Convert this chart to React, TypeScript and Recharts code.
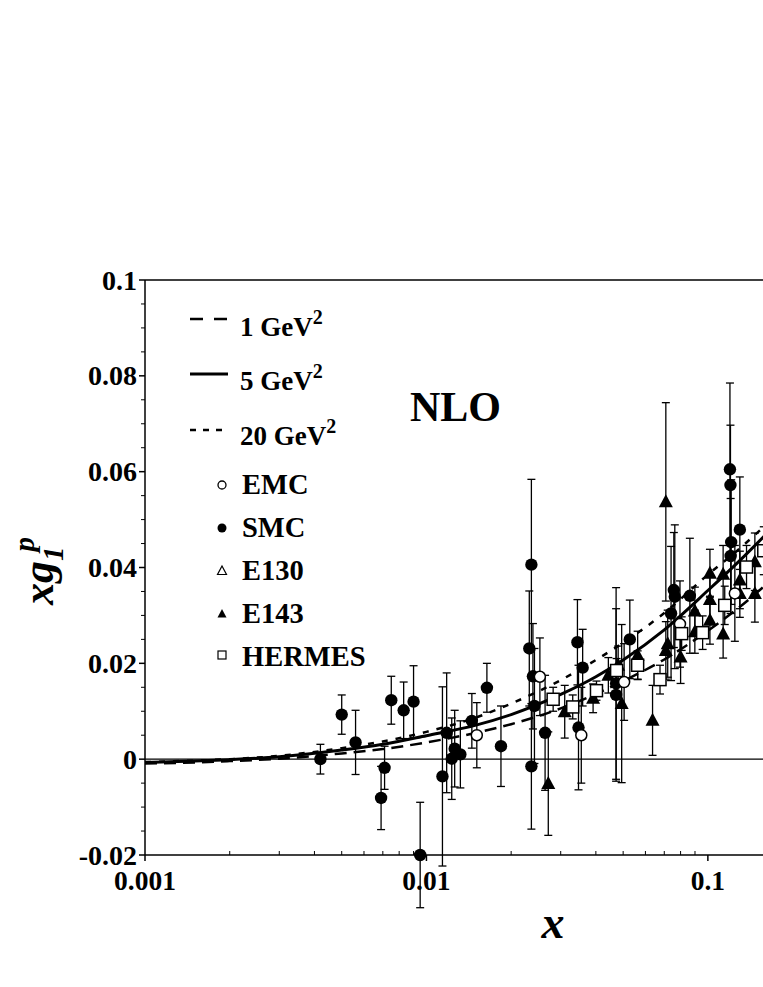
import React from 'react';
import { ComposedChart, Line, Scatter, XAxis, YAxis, ReferenceLine, ErrorBar } from 'recharts';

// curve grid (x) and the three NLO curves xg1p(x) at 1, 5, 20 GeV^2
const curveX = [0.001, 0.0015, 0.002, 0.003, 0.005, 0.007, 0.01, 0.015, 0.02, 0.03, 0.04, 0.05, 0.07, 0.1, 0.13, 0.16];
const q1GeV = [-0.0009, -0.0007, -0.0004, 0.0001, 0.0012, 0.0021, 0.0035, 0.0055, 0.0073, 0.0106, 0.0136, 0.0163, 0.0208, 0.0268, 0.0318, 0.0363];
const q5GeV = [-0.0007, -0.0004, -0.0001, 0.0005, 0.0019, 0.0031, 0.0049, 0.0071, 0.0093, 0.0135, 0.0172, 0.0207, 0.027, 0.0352, 0.0415, 0.0468];
const q20GeV = [-0.0006, -0.0003, 0.0, 0.0007, 0.0023, 0.0037, 0.0057, 0.0087, 0.0116, 0.0165, 0.0207, 0.0243, 0.0305, 0.0385, 0.044, 0.0488];

// data points: [x, xg1p, error]
const EMC = [
  [0.0151, 0.005, 0.0068],
  [0.0253, 0.0172, 0.0081],
  [0.0355, 0.005, 0.01],
  [0.0504, 0.0161, 0.008],
  [0.0796, 0.0282, 0.009],
  [0.1247, 0.0346, 0.01],
];
const SMC = [
  [0.0042, 0.0, 0.0031],
  [0.005, 0.0093, 0.0041],
  [0.0056, 0.0035, 0.0067],
  [0.0069, -0.0081, 0.0066],
  [0.0071, -0.0018, 0.0045],
  [0.0075, 0.0123, 0.005],
  [0.0083, 0.0102, 0.0059],
  [0.009, 0.012, 0.0075],
  [0.0095, -0.02, 0.011],
  [0.0114, -0.0036, 0.0187],
  [0.0118, 0.0055, 0.0125],
  [0.0123, 0.0001, 0.0085],
  [0.0126, 0.0022, 0.008],
  [0.0132, 0.001, 0.007],
  [0.0145, 0.008, 0.0057],
  [0.0164, 0.0149, 0.0051],
  [0.0184, 0.0027, 0.0084],
  [0.0232, 0.0231, 0.012],
  [0.0236, 0.0406, 0.0178],
  [0.0239, 0.0173, 0.011],
  [0.0242, 0.0111, 0.012],
  [0.0236, -0.0015, 0.0131],
  [0.0264, 0.0055, 0.012],
  [0.0344, 0.0244, 0.0089],
  [0.0359, 0.0191, 0.008],
  [0.0347, 0.0066, 0.013],
  [0.0472, 0.0158, 0.02],
  [0.0472, 0.0134, 0.018],
  [0.0528, 0.025, 0.0082],
  [0.074, 0.0304, 0.014],
  [0.0757, 0.0353, 0.012],
  [0.0763, 0.0339, 0.015],
  [0.0863, 0.0341, 0.012],
  [0.1198, 0.0605, 0.018],
  [0.1203, 0.0572, 0.0125],
  [0.121, 0.0453, 0.013],
  [0.1205, 0.0424, 0.012],
  [0.1299, 0.0479, 0.011],
];
const E130: number[][] = [];
const E143 = [
  [0.0271, -0.0051, 0.0108],
  [0.031, 0.0099, 0.0055],
  [0.0391, 0.0127, 0.003],
  [0.0443, 0.0175, 0.0037],
  [0.048, 0.0196, 0.004],
  [0.0494, 0.0116, 0.0165],
  [0.0563, 0.0217, 0.005],
  [0.0636, 0.0081, 0.0073],
  [0.0709, 0.0537, 0.0207],
  [0.0709, 0.0227, 0.006],
  [0.072, 0.0241, 0.007],
  [0.08, 0.0213, 0.0055],
  [0.0899, 0.0309, 0.005],
  [0.0899, 0.0266, 0.0045],
  [0.1017, 0.0388, 0.005],
  [0.1017, 0.0333, 0.005],
  [0.1017, 0.029, 0.005],
  [0.1133, 0.0386, 0.006],
  [0.1133, 0.0261, 0.005],
  [0.1299, 0.0374, 0.006],
  [0.1299, 0.0346, 0.005],
  [0.1469, 0.0412, 0.006],
  [0.1469, 0.0346, 0.006],
];
const HERMES = [
  [0.0282, 0.0125, 0.0025],
  [0.0331, 0.0109, 0.0025],
  [0.0402, 0.0143, 0.002],
  [0.0474, 0.0185, 0.0025],
  [0.0563, 0.0196, 0.003],
  [0.0676, 0.0166, 0.003],
  [0.0807, 0.0262, 0.0035],
  [0.0958, 0.0264, 0.0035],
  [0.1148, 0.0321, 0.004],
  [0.1372, 0.0401, 0.0045],
  [0.158, 0.0435, 0.005],
];

const xTicks = [0.001, 0.002, 0.003, 0.004, 0.005, 0.006, 0.007, 0.008, 0.009, 0.01, 0.02, 0.03, 0.04, 0.05, 0.06, 0.07, 0.08, 0.09, 0.1];
const xTickLabels: Record<string, string> = { '0.001': '0.001', '0.01': '0.01', '0.1': '0.1' };
const yTicks = [-0.02, -0.015, -0.01, -0.005, 0, 0.005, 0.01, 0.015, 0.02, 0.025, 0.03, 0.035, 0.04, 0.045, 0.05, 0.055, 0.06, 0.065, 0.07, 0.075, 0.08, 0.085, 0.09, 0.095, 0.1];
const yTickLabels: Record<string, string> = { '-0.02': '-0.02', '0': '0', '0.02': '0.02', '0.04': '0.04', '0.06': '0.06', '0.08': '0.08', '0.1': '0.1' };

const X_MIN = 0.001;
const X_MAX = 0.157;
const Y_MIN = -0.02;
const Y_MAX = 0.1;

const FONT = "'Liberation Serif', 'Times New Roman', Times, serif";

const toPts = (arr: number[][]) => arr.map(([x, y, err]) => ({ x, y, err }));
const toCurve = (ys: number[]) => curveX.map((x, i) => ({ x, y: ys[i] }));

const XTick = (props: any) => {
  const { x, y, payload } = props;
  const label = xTickLabels[String(payload.value)];
  if (label) {
    return (
      <g>
        <line x1={x} x2={x} y1={y} y2={y + 6} stroke="#000" strokeWidth={1.5} />
        <text x={x} y={y + 35} textAnchor="middle" fontFamily={FONT} fontWeight="bold" fontSize={27.5} fill="#000">{label}</text>
      </g>
    );
  }
  return <line x1={x} x2={x} y1={y} y2={y - 4} stroke="#000" strokeWidth={1} />;
};

const YTick = (props: any) => {
  const { x, y, payload } = props;
  const key = String(Math.round(payload.value * 1000) / 1000);
  const label = yTickLabels[key];
  if (label !== undefined) {
    return (
      <g>
        <line x1={x} x2={x - 6} y1={y} y2={y} stroke="#000" strokeWidth={1.5} />
        <text x={x - 8} y={y} dy="0.34em" textAnchor="end" fontFamily={FONT} fontWeight="bold" fontSize={28} fill="#000">{label}</text>
      </g>
    );
  }
  return <line x1={x} x2={x - 4} y1={y} y2={y} stroke="#000" strokeWidth={1} />;
};

const FilledCircle = (p: any) => <circle cx={p.cx} cy={p.cy} r={6.2} fill="#000" />;
const OpenCircle = (p: any) => <circle cx={p.cx} cy={p.cy} r={5.5} fill="#fff" stroke="#000" strokeWidth={1.5} />;
const FilledTri = (p: any) => <path d={`M${p.cx},${p.cy - 7.5} L${p.cx + 7},${p.cy + 5.5} L${p.cx - 7},${p.cy + 5.5} Z`} fill="#000" />;
const OpenTri = (p: any) => <path d={`M${p.cx},${p.cy - 7.5} L${p.cx + 7},${p.cy + 5.5} L${p.cx - 7},${p.cy + 5.5} Z`} fill="#fff" stroke="#000" strokeWidth={1.5} />;
const OpenSquare = (p: any) => <rect x={p.cx - 6} y={p.cy - 6} width={12} height={12} fill="#fff" stroke="#000" strokeWidth={1.5} />;

const series = [
  { name: 'SMC', data: SMC, shape: FilledCircle },
  { name: 'E143', data: E143, shape: FilledTri },
  { name: 'E130', data: E130, shape: OpenTri },
  { name: 'EMC', data: EMC, shape: OpenCircle },
  { name: 'HERMES', data: HERMES, shape: OpenSquare },
];

const Overlay = () => (
  <svg width={763} height={980} style={{ position: 'absolute', left: 0, top: 0, pointerEvents: 'none' }}>
    <g fontFamily={FONT} fontWeight="bold" fill="#000">
      <line x1={190} x2={227} y1={319} y2={319} stroke="#000" strokeWidth={2.5} strokeDasharray="13 11" />
      <text x={240} y={336} fontSize={27}>1 GeV<tspan dy={-12} fontSize={20}>2</tspan></text>
      <line x1={190} x2={228} y1={374} y2={374} stroke="#000" strokeWidth={3} />
      <text x={240} y={390} fontSize={27}>5 GeV<tspan dy={-12} fontSize={20}>2</tspan></text>
      <line x1={190} x2={226} y1={430} y2={430} stroke="#000" strokeWidth={2.5} strokeDasharray="6 7" />
      <text x={240} y={445} fontSize={27}>20 GeV<tspan dy={-12} fontSize={20}>2</tspan></text>

      <circle cx={222} cy={485} r={4} fill="#fff" stroke="#000" strokeWidth={1.3} />
      <text x={242} y={494} fontSize={28.5}>EMC</text>
      <circle cx={222} cy={528} r={4.5} fill="#000" />
      <text x={242} y={537} fontSize={28.5}>SMC</text>
      <path d="M222,566 L226.5,574.5 L217.5,574.5 Z" fill="#fff" stroke="#000" strokeWidth={1.2} />
      <text x={242} y={580} fontSize={28.5}>E130</text>
      <path d="M222,609 L226.5,617.5 L217.5,617.5 Z" fill="#000" />
      <text x={242} y={623} fontSize={28.5}>E143</text>
      <rect x={218} y={651} width={8} height={8} fill="#fff" stroke="#000" strokeWidth={1.2} />
      <text x={242} y={666} fontSize={28.5}>HERMES</text>

      <text x={410} y={421} fontSize={42}>NLO</text>

      <text x={553} y={938} fontSize={46} fontStyle="italic" textAnchor="middle">x</text>
      <text transform="translate(53,605) rotate(-90)" fontSize={44} fontStyle="italic">
        xg<tspan dy={10} fontSize={29}>1</tspan><tspan dx={-5} dy={-29} fontSize={29}>p</tspan>
      </text>
    </g>
  </svg>
);

export default function App() {
  return (
    <div style={{ position: 'absolute', left: 0, top: 0, width: 763, height: 980, overflow: 'hidden', background: '#fff' }}>
      <style>{`.recharts-scatter{clip-path:none !important}`}</style>
      <ComposedChart width={763} height={980} margin={{ top: 280, right: 0, bottom: 65, left: 0 }}>
        <XAxis
          dataKey="x"
          type="number"
          scale="log"
          domain={[X_MIN, X_MAX]}
          allowDataOverflow
          ticks={xTicks}
          interval={0}
          tickSize={0}
          tickMargin={0}
          tick={(p: any) => <XTick {...p} />}
          axisLine={{ stroke: '#000', strokeWidth: 1.5 }}
          tickLine={false}
          height={60}
        />
        <YAxis
          dataKey="y"
          type="number"
          domain={[Y_MIN, Y_MAX]}
          allowDataOverflow
          ticks={yTicks}
          interval={0}
          tickSize={0}
          tickMargin={0}
          tick={(p: any) => <YTick {...p} />}
          axisLine={{ stroke: '#000', strokeWidth: 1.5 }}
          tickLine={false}
          width={145}
        />
        <ReferenceLine y={0} stroke="#000" strokeWidth={1.3} />
        <ReferenceLine y={Y_MAX} stroke="#000" strokeWidth={1.5} />
        {series.map((s) => (
          <Scatter
            key={s.name}
            name={s.name}
            data={toPts(s.data)}
            dataKey="y"
            shape={s.shape}
            isAnimationActive={false}
          >
            <ErrorBar dataKey="err" direction="y" width={4} stroke="#000" strokeWidth={1.3} />
          </Scatter>
        ))}
        <Line data={toCurve(q1GeV)} dataKey="y" type="monotone" stroke="#000" strokeWidth={2.5} strokeDasharray="12 7" dot={false} isAnimationActive={false} />
        <Line data={toCurve(q5GeV)} dataKey="y" type="monotone" stroke="#000" strokeWidth={3} dot={false} isAnimationActive={false} />
        <Line data={toCurve(q20GeV)} dataKey="y" type="monotone" stroke="#000" strokeWidth={2.5} strokeDasharray="6 8" dot={false} isAnimationActive={false} />
      </ComposedChart>
      <Overlay />
    </div>
  );
}
